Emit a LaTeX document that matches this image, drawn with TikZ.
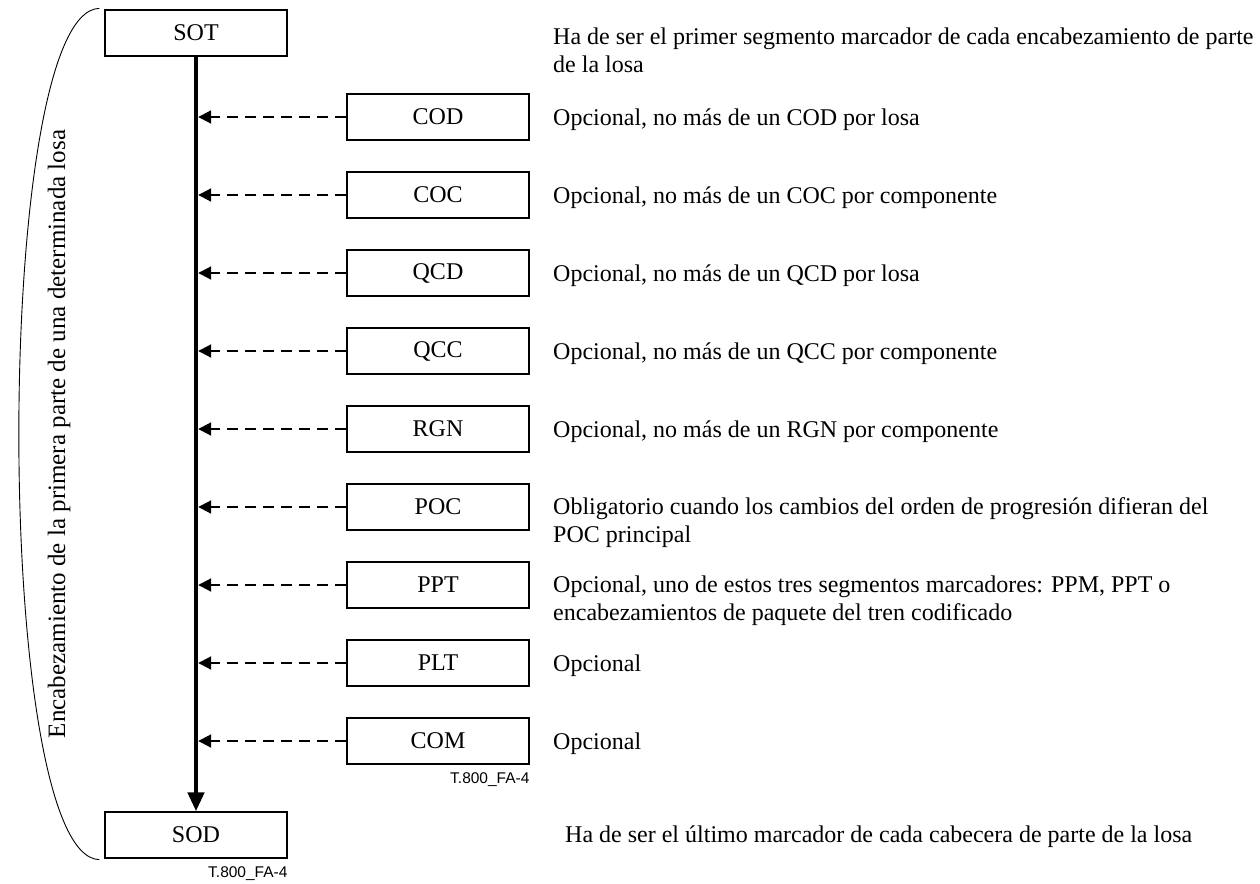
\documentclass[tikz,border=0pt]{standalone}
\usepackage{fontspec}
\setmainfont{Liberation Serif}
\newfontfamily\labelsans{Liberation Sans}
\usetikzlibrary{arrows.meta}
\begin{document}
\begin{tikzpicture}[x=1pt,y=-1pt,
  segbox/.style={draw,line width=1.3pt,minimum width=182pt,minimum height=46pt,
    inner sep=0pt,font=\fontsize{24}{28}\selectfont},
  desc/.style={anchor=base west,inner sep=0pt,font=\fontsize{24}{28}\selectfont},
  figref/.style={anchor=base east,inner sep=0pt,font=\labelsans\fontsize{15.5}{18}\selectfont},
  spine/.style={line width=4.5pt,-{Triangle[length=19pt,width=16pt]}},
  optarrow/.style={line width=2pt,dash pattern=on 11pt off 7pt,
    -{Triangle[length=13pt,width=13pt]},shorten >=2.2pt}]
\useasboundingbox (0,0) rectangle (1260,883);

% first and last marker segments
\node[segbox] (sot) at (196,33) {SOT};
\node[segbox] (sod) at (196,835) {SOD};
\draw[spine] (sot.south) -- (sod.north);

% optional marker segments, one row each
\foreach \name/\lbl [count=\i from 0] in
  {cod/COD,coc/COC,qcd/QCD,qcc/QCC,rgn/RGN,poc/POC,ppt/PPT,plt/PLT,com/COM}{
  \node[segbox] (\name) at (438,117+78*\i) {\lbl};
  \draw[optarrow] (\name.west) -- (sot.south |- \name.west);
}

% descriptions
\node[desc] (dsot1) at (553,45) {Ha de ser el primer segmento marcador de cada encabezamiento de parte};
\node[desc] (dsot2) at (553,73) {de la losa};
\node[desc] (dcod) at (553,125.5) {Opcional, no más de un COD por losa};
\node[desc] (dcoc) at (553,203.5) {Opcional, no más de un COC por componente};
\node[desc] (dqcd) at (553,281.5) {Opcional, no más de un QCD por losa};
\node[desc] (dqcc) at (553,359.5) {Opcional, no más de un QCC por componente};
\node[desc] (drgn) at (553,437.5) {Opcional, no más de un RGN por componente};
\node[desc] (dpoc1) at (553,514) {Obligatorio cuando los cambios del orden de progresión difieran del};
\node[desc] (dpoc2) at (553,542) {POC principal};
\node[desc] (dppt1) at (553,592) {Opcional, uno de estos tres segmentos marcadores: PPM, PPT o};
\node[desc] (dppt2) at (553,620) {encabezamientos de paquete del tren codificado};
\node[desc] (dplt) at (553,671.5) {Opcional};
\node[desc] (dcom) at (553,749.5) {Opcional};
\node[desc] (dsod) at (565,842) {Ha de ser el último marcador de cada cabecera de parte de la losa};

% figure references
\node[figref] (ref1) at (com.south east) [yshift=-19pt] {T.800\_FA-4};
\node[figref] (ref2) at (sod.south east) [yshift=-19pt] {T.800\_FA-4};

% brace over the whole tile-part header
\coordinate (btop) at (sot.north west);
\coordinate (bbot) at (sod.south west);
\draw[line width=0.9pt] ([xshift=-5pt,yshift=1pt]btop) .. controls (-8,11) and (-8,857) .. ([xshift=-5pt,yshift=-1pt]bbot);
\node[rotate=90,anchor=base,inner sep=0pt,font=\fontsize{25}{29}\selectfont] (hdr) at (65,434)
  {Encabezamiento de la primera parte de una determinada losa};
\end{tikzpicture}
\end{document}
